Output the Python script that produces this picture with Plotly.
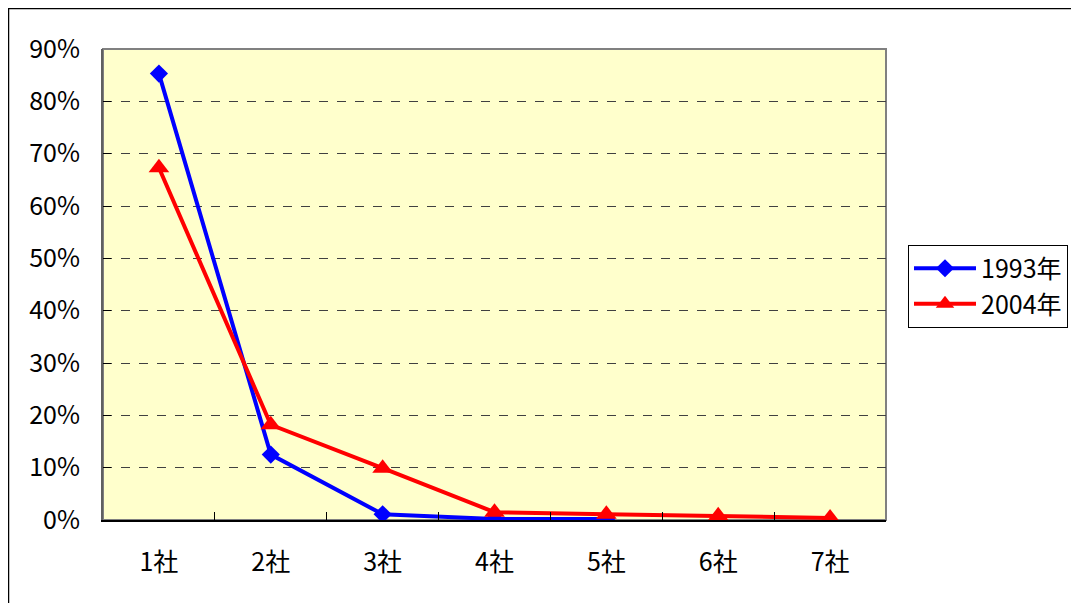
import plotly.graph_objects as go

categories = ["1社", "2社", "3社", "4社", "5社", "6社", "7社"]
series_1993 = [85.3, 12.5, 1.1, 0.2, 0.2]
series_2004 = [67.3, 18.2, 9.9, 1.5, 1.1, 0.8, 0.4]
y_ticks = [0, 10, 20, 30, 40, 50, 60, 70, 80, 90]
y_tick_labels = [f"{v}%" for v in y_ticks]

FONT = "Noto Sans CJK JP"

fig = go.Figure()
fig.add_trace(go.Scatter(
    x=categories[:len(series_1993)], y=series_1993, name="1993年",
    mode="lines+markers",
    line=dict(color="#0000FF", width=4),
    marker=dict(symbol="diamond", size=14, color="#0000FF"),
))
fig.add_trace(go.Scatter(
    x=categories[:len(series_2004)], y=series_2004, name="2004年",
    mode="lines+markers",
    line=dict(color="#FF0000", width=4),
    marker=dict(symbol="triangle-up", size=18, color="#FF0000"),
))

# page has an 8px body margin; figure coordinates = page - 8
L, R, T, B = 95, 878, 41, 512
W, H = 1079, 603

def px(xp):
    return (xp - L) / (R - L)

def py(yp):
    return (B - yp) / (B - T)

fig.update_layout(
    width=W, height=H,
    margin=dict(l=L, r=W - R, t=T, b=H - B),
    paper_bgcolor="white",
    plot_bgcolor="#FFFFCC",
    font=dict(family=FONT, size=25, color="black"),
    showlegend=True,
    legend=dict(
        x=px(900), y=py(278), xanchor="left", yanchor="middle",
        bordercolor="black", borderwidth=1, bgcolor="white",
        font=dict(family=FONT, size=25, color="black"),
        itemwidth=62, tracegroupgap=0,
    ),
    shapes=[
        dict(type="rect", xref="paper", yref="paper",
             x0=0, x1=1, y0=0, y1=1,
             line=dict(color="#808080", width=2), layer="below"),
        dict(type="rect", xref="paper", yref="paper",
             x0=px(0.5), x1=px(W + 20), y0=py(H + 20), y1=py(0.5),
             line=dict(color="black", width=1.5), layer="below"),
    ],
)

fig.update_xaxes(
    type="category", categoryorder="array", categoryarray=categories,
    range=[-0.5, 6.5],
    showline=True, linecolor="black", linewidth=2,
    ticks="inside", tickson="boundaries", ticklen=8, tickcolor="black", tickwidth=1,
    showgrid=False, zeroline=False,
    tickfont=dict(family=FONT, size=25, color="black"),
    ticklabelstandoff=19,
)
fig.update_yaxes(
    range=[0, 90], tickmode="array", tickvals=y_ticks, ticktext=y_tick_labels,
    showline=True, linecolor="#606060", linewidth=2,
    ticks="inside", ticklen=8, tickcolor="black", tickwidth=1,
    showgrid=True, gridcolor="#404040", gridwidth=1, griddash="dash",
    zeroline=False,
    tickfont=dict(family=FONT, size=25, color="black"),
    ticklabelstandoff=16,
)

fig.write_html("out.html")
